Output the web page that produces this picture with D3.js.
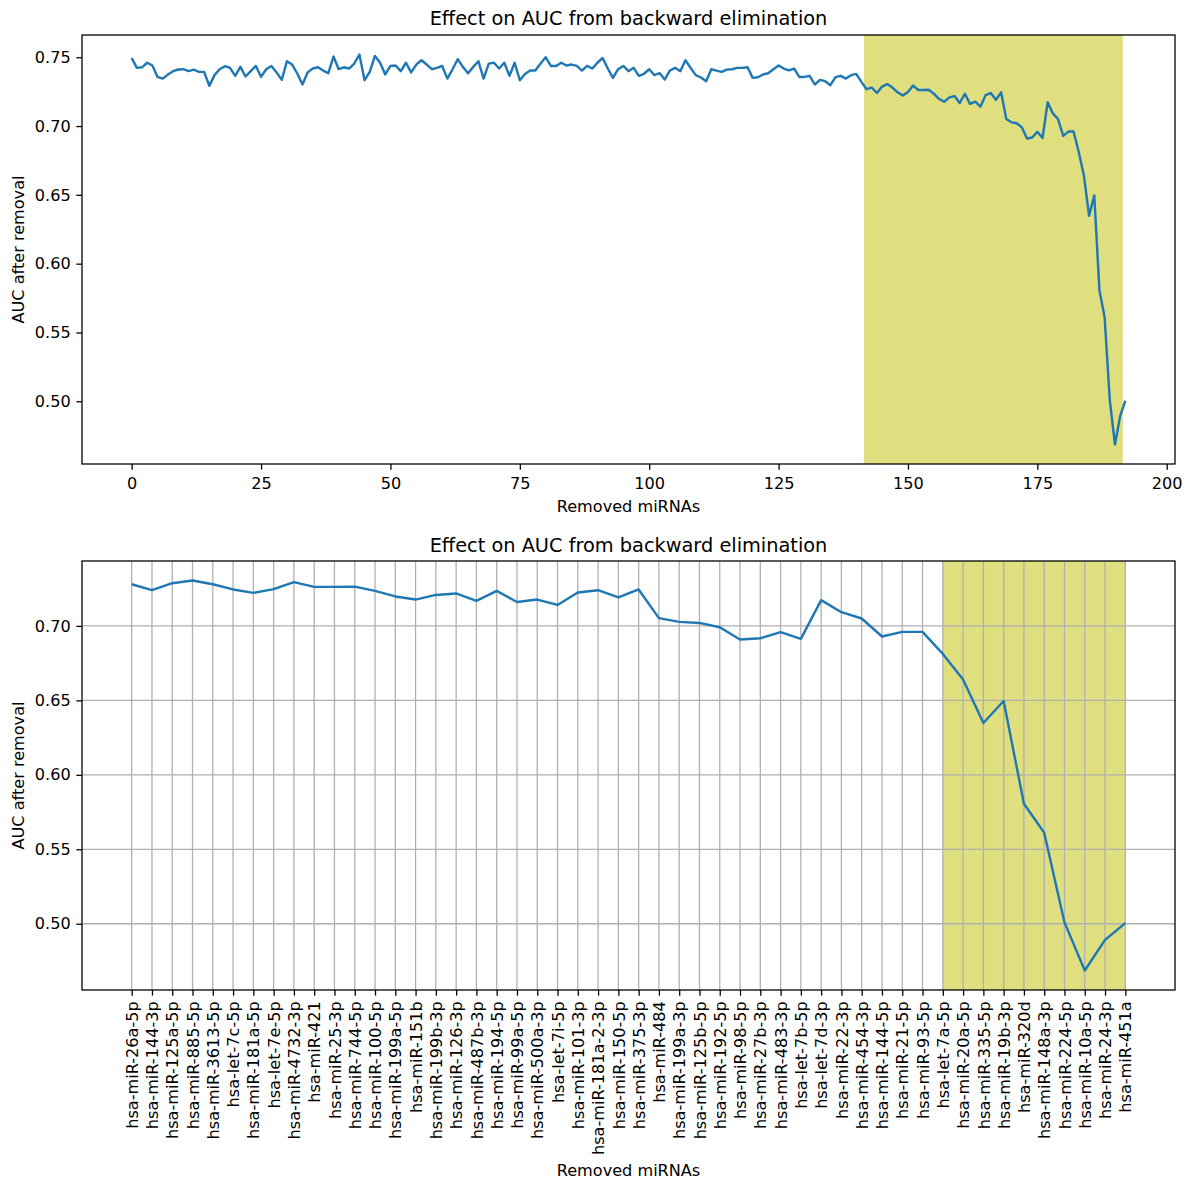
<!DOCTYPE html>
<html>
<head>
<meta charset="utf-8">
<script src="https://cdn.jsdelivr.net/npm/d3@7"></script>
<style>
  body { margin: 0; background: #fff; }
  text { font-family: "DejaVu Sans", sans-serif; fill: #000; }
</style>
</head>
<body>
<svg id="chart" width="1189" height="1182"></svg>
<script>
// AUC after each backward-elimination step (step 0 = full model)
const aucByStep = [
  0.7495, 0.7423, 0.7427, 0.7460, 0.7440, 0.7357, 0.7345, 0.7374, 0.7399, 0.7411,
  0.7413, 0.7399, 0.7410, 0.7394, 0.7394, 0.7292, 0.7370, 0.7413, 0.7435, 0.7423,
  0.7365, 0.7430, 0.7360, 0.7399, 0.7437, 0.7357, 0.7413, 0.7437, 0.7390, 0.7336,
  0.7471, 0.7447, 0.7382, 0.7302, 0.7390, 0.7418, 0.7427, 0.7403, 0.7384, 0.7505,
  0.7413, 0.7427, 0.7418, 0.7454, 0.7520, 0.7333, 0.7394, 0.7510, 0.7460, 0.7375,
  0.7437, 0.7440, 0.7399, 0.7460, 0.7390, 0.7447, 0.7478, 0.7447, 0.7413, 0.7423,
  0.7437, 0.7345, 0.7413, 0.7486, 0.7430, 0.7384, 0.7430, 0.7471, 0.7345, 0.7454,
  0.7460, 0.7418, 0.7460, 0.7365, 0.7460, 0.7333, 0.7378, 0.7404, 0.7404, 0.7454,
  0.7500, 0.7437, 0.7437, 0.7460, 0.7440, 0.7447, 0.7437, 0.7403, 0.7437, 0.7418,
  0.7460, 0.7495, 0.7418, 0.7350, 0.7413, 0.7437, 0.7399, 0.7423, 0.7365, 0.7380,
  0.7413, 0.7370, 0.7385, 0.7338, 0.7404, 0.7423, 0.7399, 0.7478, 0.7423, 0.7370,
  0.7353, 0.7326, 0.7413, 0.7403, 0.7394, 0.7410, 0.7413, 0.7423, 0.7423, 0.7427,
  0.7350, 0.7355, 0.7375, 0.7384, 0.7413, 0.7440, 0.7418, 0.7404, 0.7418, 0.7357,
  0.7357, 0.7365, 0.7302, 0.7336, 0.7326, 0.7297, 0.7355, 0.7365, 0.7345, 0.7370,
  0.7379, 0.7321, 0.7268,
  0.7280, 0.7240, 0.7287, 0.7305, 0.7280, 0.7245, 0.7222, 0.7247, 0.7294, 0.7262,
  0.7262, 0.7264, 0.7235, 0.7198, 0.7177, 0.7208, 0.7218, 0.7168, 0.7235, 0.7161,
  0.7177, 0.7141, 0.7224, 0.7240, 0.7191, 0.7245, 0.7052, 0.7027, 0.7020, 0.6991,
  0.6909, 0.6917, 0.6958, 0.6913, 0.7173, 0.7092, 0.7050, 0.6929, 0.6960, 0.6960,
  0.6812, 0.6640, 0.6348, 0.6496, 0.5806, 0.5611, 0.5009, 0.4686, 0.4892, 0.5004
];

// The last 50 miRNAs removed and the AUC after each removal
const lastMirnas = [
  "hsa-miR-26a-5p", "hsa-miR-144-3p", "hsa-miR-125a-5p", "hsa-miR-885-5p", "hsa-miR-3613-5p",
  "hsa-let-7c-5p", "hsa-miR-181a-5p", "hsa-let-7e-5p", "hsa-miR-4732-3p", "hsa-miR-421",
  "hsa-miR-25-3p", "hsa-miR-744-5p", "hsa-miR-100-5p", "hsa-miR-199a-5p", "hsa-miR-151b",
  "hsa-miR-199b-3p", "hsa-miR-126-3p", "hsa-miR-487b-3p", "hsa-miR-194-5p", "hsa-miR-99a-5p",
  "hsa-miR-500a-3p", "hsa-let-7i-5p", "hsa-miR-101-3p", "hsa-miR-181a-2-3p", "hsa-miR-150-5p",
  "hsa-miR-375-3p", "hsa-miR-484", "hsa-miR-199a-3p", "hsa-miR-125b-5p", "hsa-miR-192-5p",
  "hsa-miR-98-5p", "hsa-miR-27b-3p", "hsa-miR-483-3p", "hsa-let-7b-5p", "hsa-let-7d-3p",
  "hsa-miR-22-3p", "hsa-miR-454-3p", "hsa-miR-144-5p", "hsa-miR-21-5p", "hsa-miR-93-5p",
  "hsa-let-7a-5p", "hsa-miR-20a-5p", "hsa-miR-335-5p", "hsa-miR-19b-3p", "hsa-miR-320d",
  "hsa-miR-148a-3p", "hsa-miR-224-5p", "hsa-miR-10a-5p", "hsa-miR-24-3p", "hsa-miR-451a"
];
const lastAuc = [
  0.7280, 0.7240, 0.7287, 0.7305, 0.7280, 0.7245, 0.7222, 0.7247, 0.7294, 0.7262,
  0.7262, 0.7264, 0.7235, 0.7198, 0.7177, 0.7208, 0.7218, 0.7168, 0.7235, 0.7161,
  0.7177, 0.7141, 0.7224, 0.7240, 0.7191, 0.7245, 0.7052, 0.7027, 0.7020, 0.6991,
  0.6909, 0.6917, 0.6958, 0.6913, 0.7173, 0.7092, 0.7050, 0.6929, 0.6960, 0.6960,
  0.6812, 0.6640, 0.6348, 0.6496, 0.5806, 0.5611, 0.5009, 0.4686, 0.4892, 0.5004
];

const topXTicks = [0, 25, 50, 75, 100, 125, 150, 175, 200];
const topYTicks = [0.50, 0.55, 0.60, 0.65, 0.70, 0.75];
const bottomYTicks = [0.50, 0.55, 0.60, 0.65, 0.70];
const topHighlight = [141.5, 191.5];
const bottomHighlight = ["hsa-let-7a-5p", "hsa-miR-451a"];

const TITLE = "Effect on AUC from backward elimination";
const XLABEL = "Removed miRNAs";
const YLABEL = "AUC after removal";

const PT = 116 / 72;               // pixels per point
const LINE_COLOR = "#1f77b4";
const SHADE_COLOR = "#dfdf80";
const GRID_COLOR = "#b0b0b0";
const TICK_FONT = 10 * PT;
const TITLE_FONT = 12 * PT;
const TICK_LEN = 3.5 * PT;
const TICK_PAD = 3.5 * PT;
const THIN = 0.8 * PT;

const svg = d3.select("#chart");
svg.append("rect").attr("width", 1189).attr("height", 1182).attr("fill", "#fff");

// extent padded by 5% on each side
function padded(lo, hi) {
  const m = (hi - lo) * 0.05;
  return [lo - m, hi + m];
}

function frame(g, box) {
  g.append("rect")
    .attr("x", box.left).attr("y", box.top)
    .attr("width", box.right - box.left).attr("height", box.bottom - box.top)
    .attr("fill", "none").attr("stroke", "#000").attr("stroke-width", THIN);
}

function labels(g, box, titleBaseline, xlabelBaseline) {
  const cx = (box.left + box.right) / 2;
  g.append("text").attr("x", cx).attr("y", titleBaseline)
    .attr("text-anchor", "middle").attr("font-size", TITLE_FONT).text(TITLE);
  g.append("text").attr("x", cx).attr("y", xlabelBaseline)
    .attr("text-anchor", "middle").attr("font-size", TICK_FONT).text(XLABEL);
  g.append("text")
    .attr("transform", `translate(24,${(box.top + box.bottom) / 2}) rotate(-90)`)
    .attr("text-anchor", "middle").attr("font-size", TICK_FONT).text(YLABEL);
}

function styleAxis(sel) {
  sel.select(".domain").remove();
  sel.selectAll(".tick line").attr("stroke", "#000").attr("stroke-width", THIN);
  sel.selectAll(".tick text").attr("font-size", TICK_FONT)
    .attr("font-family", "DejaVu Sans, sans-serif").attr("fill", "#000");
}

// ---------- top panel: every elimination step ----------
{
  const box = { left: 82, right: 1175, top: 35, bottom: 464 };
  const g = svg.append("g");
  const x = d3.scaleLinear()
    .domain(padded(0, aucByStep.length - 1))
    .range([box.left, box.right]);
  const y = d3.scaleLinear()
    .domain(padded(d3.min(aucByStep), d3.max(aucByStep)))
    .range([box.bottom, box.top]);

  g.append("clipPath").attr("id", "clipTop").append("rect")
    .attr("x", box.left).attr("y", box.top)
    .attr("width", box.right - box.left).attr("height", box.bottom - box.top);

  g.append("rect")
    .attr("x", x(topHighlight[0])).attr("y", box.top)
    .attr("width", x(topHighlight[1]) - x(topHighlight[0]))
    .attr("height", box.bottom - box.top)
    .attr("fill", SHADE_COLOR);

  g.append("path").datum(aucByStep)
    .attr("clip-path", "url(#clipTop)")
    .attr("fill", "none").attr("stroke", LINE_COLOR).attr("stroke-width", 1.5 * PT)
    .attr("stroke-linejoin", "round")
    .attr("d", d3.line().x((d, i) => x(i)).y(d => y(d)));

  g.append("g").attr("transform", `translate(0,${box.bottom})`)
    .call(d3.axisBottom(x).tickValues(topXTicks).tickFormat(d3.format("d"))
      .tickSize(TICK_LEN).tickPadding(TICK_PAD))
    .call(styleAxis)
    .call(a => a.selectAll(".tick text").attr("dy", "0.85em"));
  g.append("g").attr("transform", `translate(${box.left},0)`)
    .call(d3.axisLeft(y).tickValues(topYTicks).tickFormat(d3.format(".2f"))
      .tickSize(TICK_LEN).tickPadding(TICK_PAD))
    .call(styleAxis);

  frame(g, box);
  labels(g, box, 25, 512);
}

// ---------- bottom panel: the last 50 removals ----------
{
  const box = { left: 82, right: 1175, top: 561, bottom: 990 };
  const g = svg.append("g");
  const x = d3.scalePoint().domain(lastMirnas)
    .range([box.left, box.right]).padding(2.45);
  const y = d3.scaleLinear()
    .domain(padded(d3.min(lastAuc), d3.max(lastAuc)))
    .range([box.bottom, box.top]);

  g.append("clipPath").attr("id", "clipBottom").append("rect")
    .attr("x", box.left).attr("y", box.top)
    .attr("width", box.right - box.left).attr("height", box.bottom - box.top);

  g.append("rect")
    .attr("x", x(bottomHighlight[0])).attr("y", box.top)
    .attr("width", x(bottomHighlight[1]) - x(bottomHighlight[0]))
    .attr("height", box.bottom - box.top)
    .attr("fill", SHADE_COLOR);

  // grid
  const grid = g.append("g").attr("stroke", GRID_COLOR).attr("stroke-width", THIN);
  grid.selectAll("line.v").data(lastMirnas).join("line")
    .attr("x1", d => x(d)).attr("x2", d => x(d))
    .attr("y1", box.top).attr("y2", box.bottom);
  grid.selectAll("line.h").data(bottomYTicks).join("line")
    .attr("x1", box.left).attr("x2", box.right)
    .attr("y1", d => y(d)).attr("y2", d => y(d));

  g.append("path").datum(lastAuc)
    .attr("clip-path", "url(#clipBottom)")
    .attr("fill", "none").attr("stroke", LINE_COLOR).attr("stroke-width", 1.5 * PT)
    .attr("stroke-linejoin", "round")
    .attr("d", d3.line().x((d, i) => x(lastMirnas[i])).y(d => y(d)));

  g.append("g").attr("transform", `translate(0,${box.bottom})`)
    .call(d3.axisBottom(x).tickSize(TICK_LEN).tickPadding(TICK_PAD))
    .call(styleAxis)
    .call(a => a.selectAll(".tick text")
      .attr("transform", "rotate(-90)")
      .attr("x", -(TICK_LEN + TICK_PAD)).attr("y", 0).attr("dy", "0.35em")
      .attr("text-anchor", "end"));
  g.append("g").attr("transform", `translate(${box.left},0)`)
    .call(d3.axisLeft(y).tickValues(bottomYTicks).tickFormat(d3.format(".2f"))
      .tickSize(TICK_LEN).tickPadding(TICK_PAD))
    .call(styleAxis);

  frame(g, box);
  labels(g, box, 552, 1176);
}
</script>
</body>
</html>
